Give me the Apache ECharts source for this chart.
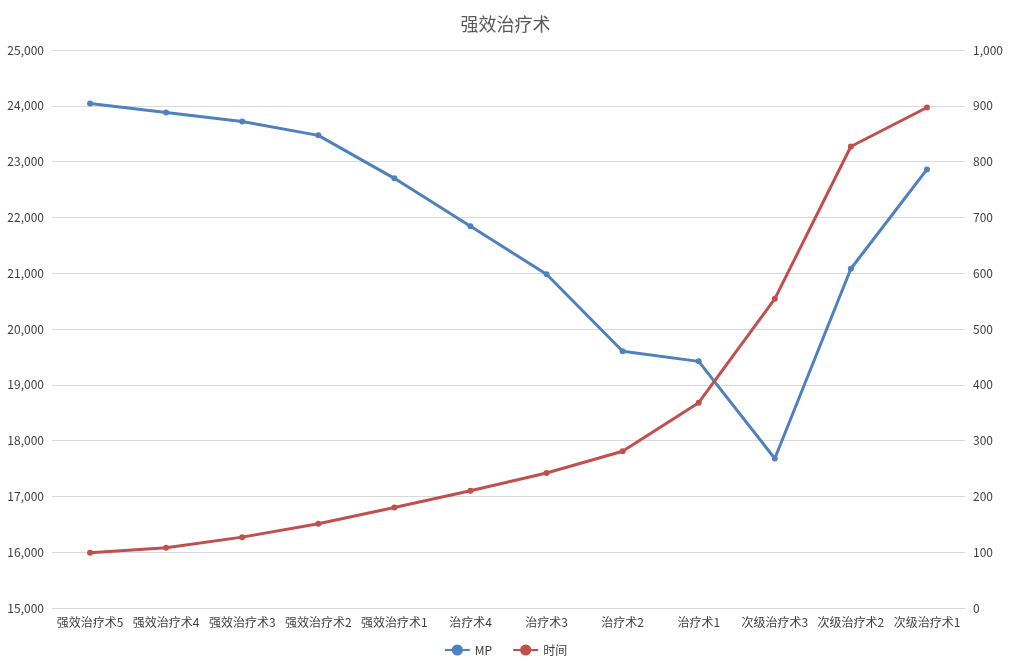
<!DOCTYPE html>
<html><head><meta charset="utf-8">
<script src="https://cdn.jsdelivr.net/npm/echarts@6/dist/echarts.min.js"></script>
<style>html,body{margin:0;background:#fff}#c{width:1011px;height:671px}</style>
</head><body><div id="c"></div>
<script>
const categories = ["强效治疗术5","强效治疗术4","强效治疗术3","强效治疗术2","强效治疗术1","治疗术4","治疗术3","治疗术2","治疗术1","次级治疗术3","次级治疗术2","次级治疗术1"];
const mpValues = [24040,23880,23720,23470,22700,21840,20980,19600,19420,17680,21080,22860];
const timeValues = [99,108,127,151,180,210,242,281,368,554,827,897];

const chart = echarts.init(document.getElementById("c"));
const font = "Noto Sans CJK SC";
chart.setOption({
  animation: false,
  textStyle: { fontFamily: font },
  title: { text: "强效治疗术", left: "center", top: 10, textStyle: { color: "#595959", fontSize: 18, fontWeight: "normal", fontFamily: font } },
  legend: { bottom: 10, itemGap: 20, textStyle: { color: "#404040", fontSize: 12 }, data: ["MP", "时间"] },
  grid: { left: 52, right: 46, top: 50, bottom: 63 },
  xAxis: {
    type: "category", data: categories,
    axisLine: { lineStyle: { color: "#d9d9d9" } }, axisTick: { show: false },
    axisLabel: { color: "#404040", fontSize: 12, interval: 0 }
  },
  yAxis: [
    { type: "value", min: 15000, max: 25000, interval: 1000, axisLine: { show: false }, axisTick: { show: false },
      axisLabel: { color: "#404040", fontSize: 12 }, splitLine: { lineStyle: { color: "#d9d9d9" } } },
    { type: "value", min: 0, max: 1000, interval: 100, axisLine: { show: false }, axisTick: { show: false },
      axisLabel: { color: "#404040", fontSize: 12 }, splitLine: { show: false } }
  ],
  series: [
    { name: "MP", type: "line", data: mpValues, symbol: "circle", symbolSize: 6,
      lineStyle: { width: 3, color: "#4f81bd" }, itemStyle: { color: "#4f81bd" } },
    { name: "时间", type: "line", yAxisIndex: 1, data: timeValues, symbol: "circle", symbolSize: 6,
      lineStyle: { width: 3, color: "#c0504d" }, itemStyle: { color: "#c0504d" } }
  ]
});
</script></body></html>
